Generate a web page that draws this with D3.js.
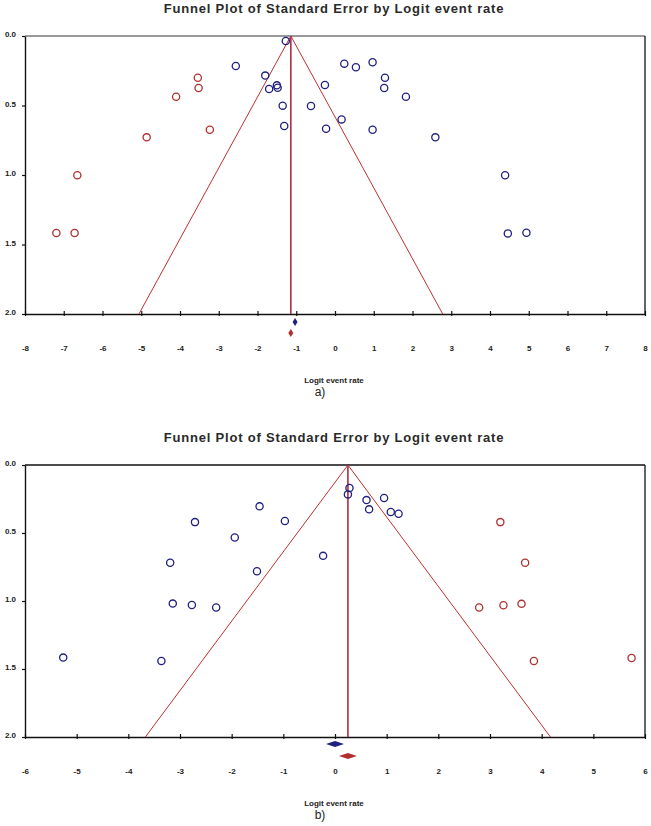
<!DOCTYPE html>
<html>
<head>
<meta charset="utf-8">
<script src="https://cdn.jsdelivr.net/npm/d3@7"></script>
<style>
  body { margin: 0; background: #fff; }
  svg { display: block; font-family: "Liberation Sans", Arial, sans-serif; }
</style>
</head>
<body>
<svg id="chart" width="651" height="826"></svg>
<script>
/* ---------- data ---------- */
const TITLE = 'Funnel Plot of Standard Error by Logit event rate';
const X_LABEL = 'Logit event rate';
const SE_TICKS = [0, 0.5, 1, 1.5, 2];

// panel a) observed studies [logit, se]
const aObserved = [
  [-1.27, 0.036], [-2.56, 0.216], [-1.80, 0.285], [-1.70, 0.381], [-1.50, 0.355],
  [-1.48, 0.372], [-1.35, 0.501], [-0.62, 0.504], [-1.31, 0.647], [-0.26, 0.352],
  [-0.23, 0.667], [0.24, 0.199], [0.54, 0.225], [0.97, 0.189], [1.29, 0.300],
  [1.27, 0.374], [1.83, 0.437], [0.17, 0.600], [0.97, 0.674], [2.59, 0.729],
  [4.39, 1.002], [4.46, 1.420], [4.94, 1.415]
];
// panel a) imputed studies
const aImputed = [
  [-3.54, 0.300], [-3.52, 0.374], [-4.10, 0.437], [-4.86, 0.729], [-3.23, 0.674],
  [-6.65, 1.002], [-7.19, 1.417], [-6.72, 1.417]
];
const aEstimate = [-1.03, -1.14];   // observed, adjusted
const aXTicks = d3.range(-8, 9, 1);

// panel b)
const bObserved = [
  [-2.71, 0.420], [-1.46, 0.304], [-0.97, 0.412], [-1.94, 0.533], [-3.19, 0.719],
  [-1.51, 0.781], [-0.23, 0.668], [-3.14, 1.019], [-2.77, 1.029], [-2.30, 1.048],
  [-5.26, 1.416], [-3.36, 1.441], [0.28, 0.169], [0.25, 0.216], [0.61, 0.258],
  [0.95, 0.243], [0.66, 0.326], [1.08, 0.346], [1.23, 0.358]
];
const bImputed = [
  [3.20, 0.420], [3.68, 0.719], [2.79, 1.048], [3.26, 1.031], [3.61, 1.021],
  [3.85, 1.441], [5.74, 1.419]
];
const bEstimate = [0.00, 0.25];
const bXTicks = d3.range(-6, 7, 1);

/* ---------- draw ---------- */
const svg = d3.select('#chart');
const BLUE = '#202080', RED = '#b03030';

function drawPanel(opt) {
  const x = d3.scaleLinear().domain(opt.xDomain).range([25, 645]);
  const y = d3.scaleLinear().domain([0, 2]).range([opt.top, opt.bottom]);
  const g = svg.append('g');

  g.append('text')
    .attr('x', 334).attr('y', opt.top - 23)
    .attr('text-anchor', 'middle')
    .attr('font-size', 13).attr('font-weight', 'bold')
    .attr('letter-spacing', 0.8)
    .attr('fill', '#2a2a2a')
    .text(TITLE);

  // frame
  g.append('line').attr('x1', 25).attr('x2', 645).attr('y1', opt.top).attr('y2', opt.top)
    .attr('stroke', opt.topColor).attr('stroke-width', 1.5);
  g.append('line').attr('x1', 645).attr('x2', 645).attr('y1', opt.top).attr('y2', opt.bottom)
    .attr('stroke', '#111').attr('stroke-width', 1.3);

  // axes
  const xAxis = d3.axisBottom(x).tickValues(opt.xTicks).tickSize(0).tickFormat(d3.format('d'));
  const xg = g.append('g').attr('transform', `translate(0,${opt.bottom})`).call(xAxis);
  xg.select('.domain').attr('stroke', '#111').attr('stroke-width', 1.6);
  xg.selectAll('.tick line').remove();
  xg.selectAll('.tick').append('line').attr('y1', -3).attr('y2', 2)
    .attr('stroke', '#111').attr('stroke-width', 1.2);
  xg.selectAll('.tick text').attr('dy', 0).attr('y', 37)
    .attr('font-size', 8).attr('font-weight', 'bold').attr('fill', '#222')
    .text(d => d < 0 ? '-' + Math.abs(d) : d);

  const yAxis = d3.axisLeft(y).tickValues(SE_TICKS).tickSize(0).tickFormat(d3.format('.1f'));
  const yg = g.append('g').attr('transform', 'translate(25,0)').call(yAxis);
  yg.select('.domain').attr('stroke', '#111').attr('stroke-width', 1.4);
  yg.selectAll('.tick line').remove();
  yg.selectAll('.tick').append('line').attr('x1', -3).attr('x2', 0)
    .attr('stroke', '#111').attr('stroke-width', 1.2);
  yg.selectAll('.tick text').attr('x', -9).attr('dy', '0.1em')
    .attr('font-size', 8).attr('font-weight', 'bold').attr('fill', '#222');

  // funnel
  const c = opt.est[1];
  g.append('path')
    .attr('d', d3.line()([[x(c - 1.96 * 2), y(2)], [x(c), y(0)], [x(c + 1.96 * 2), y(2)]]))
    .attr('fill', 'none').attr('stroke', '#c03030').attr('stroke-width', 1);
  g.append('line').attr('x1', x(c)).attr('x2', x(c)).attr('y1', y(0)).attr('y2', y(2))
    .attr('stroke', '#a83040').attr('stroke-width', 1.6);

  // points
  g.selectAll('.obs').data(opt.obs).join('circle')
    .attr('cx', d => x(d[0])).attr('cy', d => y(d[1])).attr('r', 3.6)
    .attr('fill', 'none').attr('stroke', BLUE).attr('stroke-width', 1.3);
  g.selectAll('.imp').data(opt.imp).join('circle')
    .attr('cx', d => x(d[0])).attr('cy', d => y(d[1])).attr('r', 3.6)
    .attr('fill', 'none').attr('stroke', RED).attr('stroke-width', 1.3);

  // summary diamonds
  [[opt.est[0], BLUE, opt.dy[0]], [opt.est[1], RED, opt.dy[1]]].forEach(([v, col, dy]) => {
    const cx = x(v), cy = opt.bottom + dy, hw = opt.dw, hh = opt.dh;
    g.append('path')
      .attr('d', `M${cx - hw},${cy}L${cx},${cy - hh}L${cx + hw},${cy}L${cx},${cy + hh}Z`)
      .attr('fill', col);
  });

  g.append('text').attr('x', 334).attr('y', opt.bottom + 69)
    .attr('text-anchor', 'middle').attr('font-size', 8).attr('font-weight', 'bold')
    .attr('fill', '#222').text(X_LABEL);
  g.append('text').attr('x', 320).attr('y', opt.bottom + 82)
    .attr('text-anchor', 'middle').attr('font-size', 12).attr('fill', '#222')
    .text(opt.label);
}

drawPanel({ xDomain: [-8, 8], xTicks: aXTicks, top: 36, bottom: 314, topColor: '#777',
  obs: aObserved, imp: aImputed, est: aEstimate, dy: [8, 19], dw: 2.5, dh: 4, label: 'a)' });
drawPanel({ xDomain: [-6, 6], xTicks: bXTicks, top: 465, bottom: 737, topColor: '#111',
  obs: bObserved, imp: bImputed, est: bEstimate, dy: [7, 19], dw: 9, dh: 3, label: 'b)' });
</script>
</body>
</html>
